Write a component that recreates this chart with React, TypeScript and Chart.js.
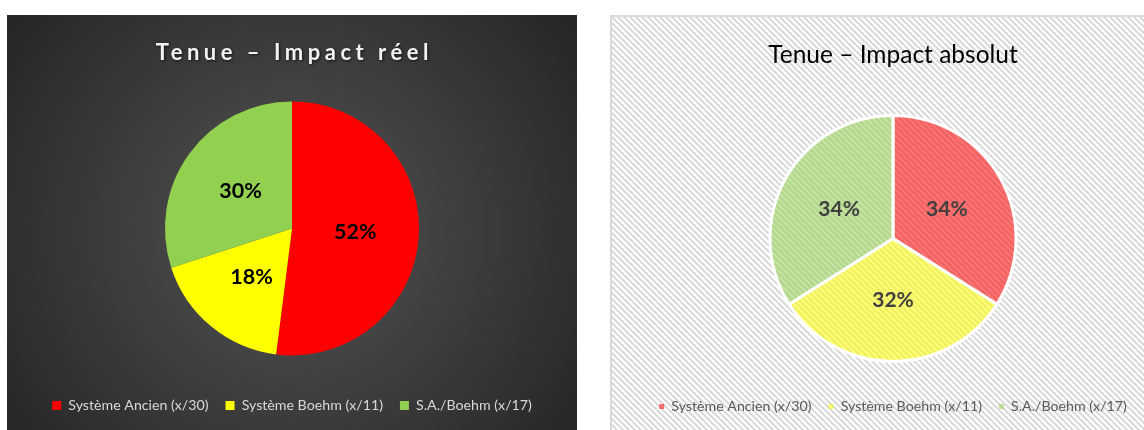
import React, { useEffect, useRef } from "react";
import { Chart, registerables } from "chart.js";

Chart.register(...registerables);

// ---------- data ----------
const categories = ["Système Ancien (x/30)", "Système Boehm (x/11)", "S.A./Boehm (x/17)"];
const realPercent = [52, 18, 30];
const absolutePercent = [34, 32, 34];
const realTitle = "Tenue – Impact réel";
const absoluteTitle = "Tenue – Impact absolut";
const solidColors = ["#FF0000", "#FFFF00", "#92D050"];
const softColors = ["rgba(255,0,0,0.55)", "rgba(255,255,0,0.55)", "rgba(146,208,80,0.55)"];

const FONT = "Lato, 'Open Sans', sans-serif";

// ---------- plugins ----------
const darkBackground = {
  id: "darkBackground",
  beforeDraw(chart: any) {
    const { ctx, width, height } = chart;
    const cx = width / 2;
    const cy = height * 0.52;
    const g = ctx.createRadialGradient(cx, cy, 0, cx, cy, Math.hypot(width, height) / 2);
    g.addColorStop(0, "#545454");
    g.addColorStop(1, "#262626");
    ctx.save();
    ctx.fillStyle = g;
    ctx.fillRect(0, 0, width, height);
    ctx.restore();
  },
};

function makeHatch(): CanvasPattern | string {
  const s = 6;
  const c = document.createElement("canvas");
  c.width = s;
  c.height = s;
  const x = c.getContext("2d");
  if (!x) return "#eeeeee";
  x.fillStyle = "#ffffff";
  x.fillRect(0, 0, s, s);
  x.strokeStyle = "#d9d9d9";
  x.lineWidth = 2;
  for (const k of [-s, 0, s]) {
    x.beginPath();
    x.moveTo(-s, -s + k);
    x.lineTo(2 * s, 2 * s + k);
    x.stroke();
  }
  const p = x.createPattern(c, "repeat");
  return p || "#eeeeee";
}

const hatchBackground = {
  id: "hatchBackground",
  beforeDraw(chart: any) {
    const { ctx, width, height } = chart;
    if (!chart.$hatch) chart.$hatch = makeHatch();
    ctx.save();
    ctx.fillStyle = chart.$hatch;
    ctx.fillRect(0, 0, width, height);
    ctx.strokeStyle = "#d9d9d9";
    ctx.lineWidth = 2;
    ctx.strokeRect(1, 1, width + 10, height + 10);
    ctx.restore();
  },
};

const spacedTitle = {
  id: "spacedTitle",
  afterDraw(chart: any, _args: any, opts: any) {
    const tb = chart.titleBlock;
    if (!tb) return;
    const { ctx } = chart;
    const text = chart.options.plugins.title.text;
    const y = tb.top + opts.padTop + (opts.size * 1.2) / 2;
    const x = tb.left + tb.width / 2 + opts.spacing / 2;
    ctx.save();
    ctx.font = `bold ${opts.size}px ${FONT}`;
    (ctx as any).letterSpacing = `${opts.spacing}px`;
    ctx.textAlign = "center";
    ctx.textBaseline = "middle";
    ctx.shadowColor = "rgba(0,0,0,0.7)";
    ctx.shadowBlur = 3;
    ctx.shadowOffsetX = 1;
    ctx.shadowOffsetY = 1;
    ctx.fillStyle = opts.color;
    ctx.fillText(text, x, y);
    ctx.restore();
  },
};

const sliceLabels = {
  id: "sliceLabels",
  afterDatasetsDraw(chart: any, _args: any, opts: any) {
    const { ctx } = chart;
    const meta = chart.getDatasetMeta(0);
    const data = chart.data.datasets[0].data;
    ctx.save();
    ctx.font = `bold ${opts.size}px ${FONT}`;
    ctx.fillStyle = opts.color;
    ctx.textAlign = "center";
    ctx.textBaseline = "middle";
    meta.data.forEach((arc: any, i: number) => {
      const p = arc.tooltipPosition(false);
      ctx.fillText(`${data[i]}%`, p.x, p.y);
    });
    ctx.restore();
  },
};

function legendLabels(chart: any) {
  const base = (Chart as any).overrides.pie.plugins.legend.labels.generateLabels(chart);
  return base.map((it: any) => ({ ...it, lineWidth: 0, strokeStyle: "rgba(0,0,0,0)" }));
}

// ---------- configs ----------
function realConfig(): any {
  return {
    type: "pie",
    data: {
      labels: categories,
      datasets: [
        {
          data: realPercent,
          backgroundColor: solidColors,
          borderWidth: 0,
          radius: 127,
        },
      ],
    },
    options: {
      responsive: false,
      animation: false,
      layout: { padding: { top: 0, bottom: 7.5, left: 0, right: 0 } },
      plugins: {
        title: {
          display: true,
          text: realTitle,
          color: "rgba(0,0,0,0)",
          font: { family: FONT, size: 22, weight: "bold" },
          padding: { top: 24.8, bottom: 9.3 },
        },
        legend: {
          position: "bottom",
          labels: {
            color: "#d9d9d9",
            font: { family: FONT, size: 14.2 },
            boxWidth: 9,
            boxHeight: 9,
            padding: 17,
            generateLabels: legendLabels,
          },
        },
        tooltip: { enabled: false },
        spacedTitle: { size: 22, spacing: 4.5, padTop: 24.8, color: "#f2f2f2" },
        sliceLabels: { size: 21.5, color: "#000000" },
      },
    },
    plugins: [darkBackground, spacedTitle, sliceLabels],
  };
}

function absoluteConfig(): any {
  return {
    type: "pie",
    data: {
      labels: categories,
      datasets: [
        {
          data: absolutePercent,
          backgroundColor: softColors,
          borderColor: "#ffffff",
          borderWidth: 3,
          radius: 123,
        },
      ],
    },
    options: {
      responsive: false,
      animation: false,
      layout: { padding: { top: 0, bottom: 6.5, left: 0, right: 0 } },
      plugins: {
        title: {
          display: true,
          text: absoluteTitle,
          color: "#000000",
          font: { family: FONT, size: 24.5, weight: "normal" },
          padding: { top: 25.3, bottom: 24.8 },
        },
        legend: {
          position: "bottom",
          labels: {
            color: "#595959",
            font: { family: FONT, size: 14.2 },
            boxWidth: 5,
            boxHeight: 5,
            padding: 17,
            generateLabels: legendLabels,
          },
        },
        tooltip: { enabled: false },
        sliceLabels: { size: 21, color: "#404040" },
      },
    },
    plugins: [hatchBackground, sliceLabels],
  };
}

// ---------- components ----------
function PieCanvas(props: { make: () => any; left: number; top: number; width: number; height: number }) {
  const ref = useRef<HTMLCanvasElement>(null);
  useEffect(() => {
    if (!ref.current) return;
    const chart = new Chart(ref.current, props.make());
    return () => chart.destroy();
  }, []);
  return (
    <canvas
      ref={ref}
      width={props.width}
      height={props.height}
      style={{
        position: "absolute",
        left: props.left,
        top: props.top,
        width: props.width,
        height: props.height,
        display: "block",
      }}
    />
  );
}

export default function App() {
  return (
    <div
      style={{
        position: "fixed",
        left: 0,
        top: 0,
        width: 1144,
        height: 430,
        overflow: "hidden",
        background: "#ffffff",
      }}
    >
      <PieCanvas make={realConfig} left={7} top={15} width={570} height={415} />
      <PieCanvas make={absoluteConfig} left={610} top={15} width={566} height={415} />
    </div>
  );
}
